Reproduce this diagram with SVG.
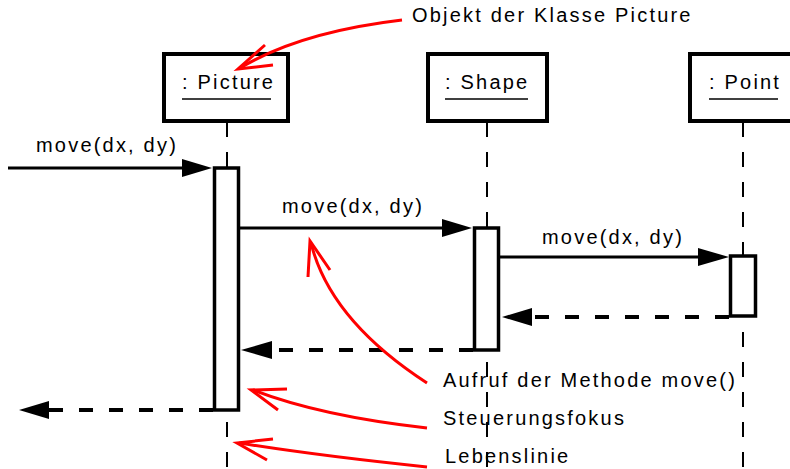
<svg xmlns="http://www.w3.org/2000/svg" width="790" height="469" viewBox="0 0 790 469">
  <defs>
    <style>
      text { font-family: "Liberation Sans", Arial, sans-serif; font-size: 20px; letter-spacing: 2.2px; fill: #000; }
      .obj { fill: #fff; stroke: #000; stroke-width: 4; }
      .uline { stroke: #000; stroke-width: 1.6; }
      .life { stroke: #000; stroke-width: 2; stroke-dasharray: 15 15; fill: none; }
      .bar { fill: #fff; stroke: #000; stroke-width: 3.5; }
      .call { stroke: #000; stroke-width: 3; fill: none; }
      .ret { stroke: #000; stroke-width: 4; stroke-dasharray: 14 16; fill: none; }
      .head { fill: #000; }
      .note { stroke: #ff0000; stroke-width: 3; fill: none; stroke-linecap: butt; stroke-linejoin: miter; }
    </style>
  </defs>
  <rect width="790" height="469" fill="#fff"/>

  <!-- lifelines -->
  <g id="lifelines">
    <line class="life" x1="227" y1="122" x2="227" y2="469"/>
    <line class="life" x1="487" y1="122" x2="487" y2="469"/>
    <line class="life" x1="743" y1="122" x2="743" y2="469"/>
  </g>

  <!-- objects -->
  <g id="picture">
    <rect class="obj" x="164" y="54" width="124" height="67"/>
    <text x="182" y="89">: Picture</text>
    <line class="uline" x1="182" y1="99" x2="271" y2="99"/>
    <rect class="bar" x="214.5" y="168" width="24" height="242"/>
  </g>
  <g id="shape">
    <rect class="obj" x="428" y="54" width="119" height="67"/>
    <text x="445" y="89">: Shape</text>
    <line class="uline" x1="445" y1="99" x2="528" y2="99"/>
    <rect class="bar" x="474.5" y="228" width="24" height="122"/>
  </g>
  <g id="point">
    <rect class="obj" x="690" y="54" width="110" height="67"/>
    <text x="709" y="89">: Point</text>
    <line class="uline" x1="709" y1="99" x2="778" y2="99"/>
    <rect class="bar" x="730.5" y="256" width="25" height="60"/>
  </g>

  <!-- messages -->
  <g id="connectors">
    <line class="call" x1="8" y1="168" x2="184" y2="168"/>
    <polygon class="head" points="212,168 182,159 182,177"/>
    <text x="36" y="152">move(dx, dy)</text>

    <line class="call" x1="240" y1="228" x2="444" y2="228"/>
    <polygon class="head" points="472,228 442,219 442,237"/>
    <text x="282" y="213">move(dx, dy)</text>

    <line class="call" x1="500" y1="257" x2="700" y2="257"/>
    <polygon class="head" points="729,257 698,248 698,266"/>
    <text x="542" y="244">move(dx, dy)</text>

    <line class="ret" x1="729" y1="317" x2="530" y2="317"/>
    <polygon class="head" points="502,317 532,308 532,326"/>

    <line class="ret" x1="473" y1="350" x2="270" y2="350"/>
    <polygon class="head" points="241,350 272,341 272,359"/>

    <line class="ret" x1="213" y1="410" x2="47" y2="410"/>
    <polygon class="head" points="19,410 49,401 49,419"/>
  </g>

  <!-- annotations -->
  <g id="annotations">
    <text x="412" y="22">Objekt der Klasse Picture</text>
    <path class="note" d="M402,20 Q300,32 240,68"/>
    <polyline class="note" points="265,45 238,69 273,65"/>

    <text x="443" y="387">Aufruf der Methode move()</text>
    <path class="note" d="M427,383 Q330,320 311,243"/>
    <polyline class="note" points="308,277 310,241 330,270"/>

    <text x="443" y="425">Steuerungsfokus</text>
    <path class="note" d="M427,428 Q320,416 253,390"/>
    <polyline class="note" points="287,389 251,390 278,410"/>

    <text x="445" y="463">Lebenslinie</text>
    <path class="note" d="M427,467 Q320,456 239,443"/>
    <polyline class="note" points="273,439 237,443 267,460"/>
  </g>
</svg>
